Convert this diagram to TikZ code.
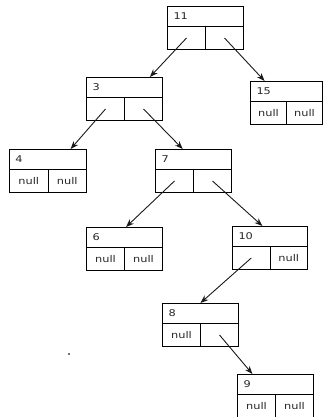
\documentclass[tikz,border=0pt]{standalone}
\usepackage{fontspec}
\newfontfamily\lblfont[FakeStretch=1.22]{DejaVu Sans}
\usetikzlibrary{calc,arrows.meta}
\tikzset{
  cellbase/.style={draw=black, line width=1pt, inner sep=0pt, font=\lblfont\fontsize{9.3}{11}\selectfont, text=black!85},
  topcell/.style={cellbase, minimum height=20pt, text width=#1, align=left, inner xsep=6pt},
  botcell/.style={cellbase, minimum height=23pt, minimum width=#1},
  arr/.style={draw=black!90, line width=0.9pt, -{Stealth[length=8pt,width=6pt]}}
}
% name, x, y, label, left text, right text, cell width
\newcommand\treebox[7]{%
  \node[topcell={2*#7pt-12pt}, anchor=north west] (#1t) at (#2,#3) {#4};
  \node[botcell={#7pt}, anchor=north west] (#1l) at (#2,#3+20) {#5};
  \node[botcell={#7pt}, anchor=north west] (#1r) at (#2+#7,#3+20) {#6};
}
\begin{document}
\begin{tikzpicture}[x=1pt,y=-1pt]
\useasboundingbox (0,0) rectangle (324,417);
\treebox{a}{167}{6}{11}{}{}{38}
\treebox{b}{86}{77}{3}{}{}{38}
\treebox{c}{250}{81}{15}{null}{null}{36}
\treebox{d}{9}{149}{4}{null}{null}{38.5}
\treebox{e}{155}{149}{7}{}{}{38}
\treebox{f}{86}{227}{6}{null}{null}{38}
\treebox{g}{232}{226}{10}{}{null}{37.5}
\treebox{h}{162}{303}{8}{null}{}{38}
\treebox{i}{237}{374}{9}{null}{null}{38}
\draw[arr] (al.center) -- ($(bt.north west)!0.83!(bt.north east)$);
\draw[arr] (ar.center) -- ($(ct.north west)!0.2!(ct.north east)$);
\draw[arr] (bl.center) -- ($(dt.north west)!0.79!(dt.north east)$);
\draw[arr] (br.center) -- ($(et.north west)!0.36!(et.north east)$);
\draw[arr] (el.center) -- ($(ft.north west)!0.52!(ft.north east)$);
\draw[arr] (er.center) -- ($(gt.north west)!0.4!(gt.north east)$);
\draw[arr] (gl.center) -- ($(ht.north west)!0.5!(ht.north east)$);
\draw[arr] (hr.center) -- ($(it.north west)!0.2!(it.north east)$);
\fill[black!55] (68.2,353.2) rectangle (69.8,354.8);
\end{tikzpicture}
\end{document}
